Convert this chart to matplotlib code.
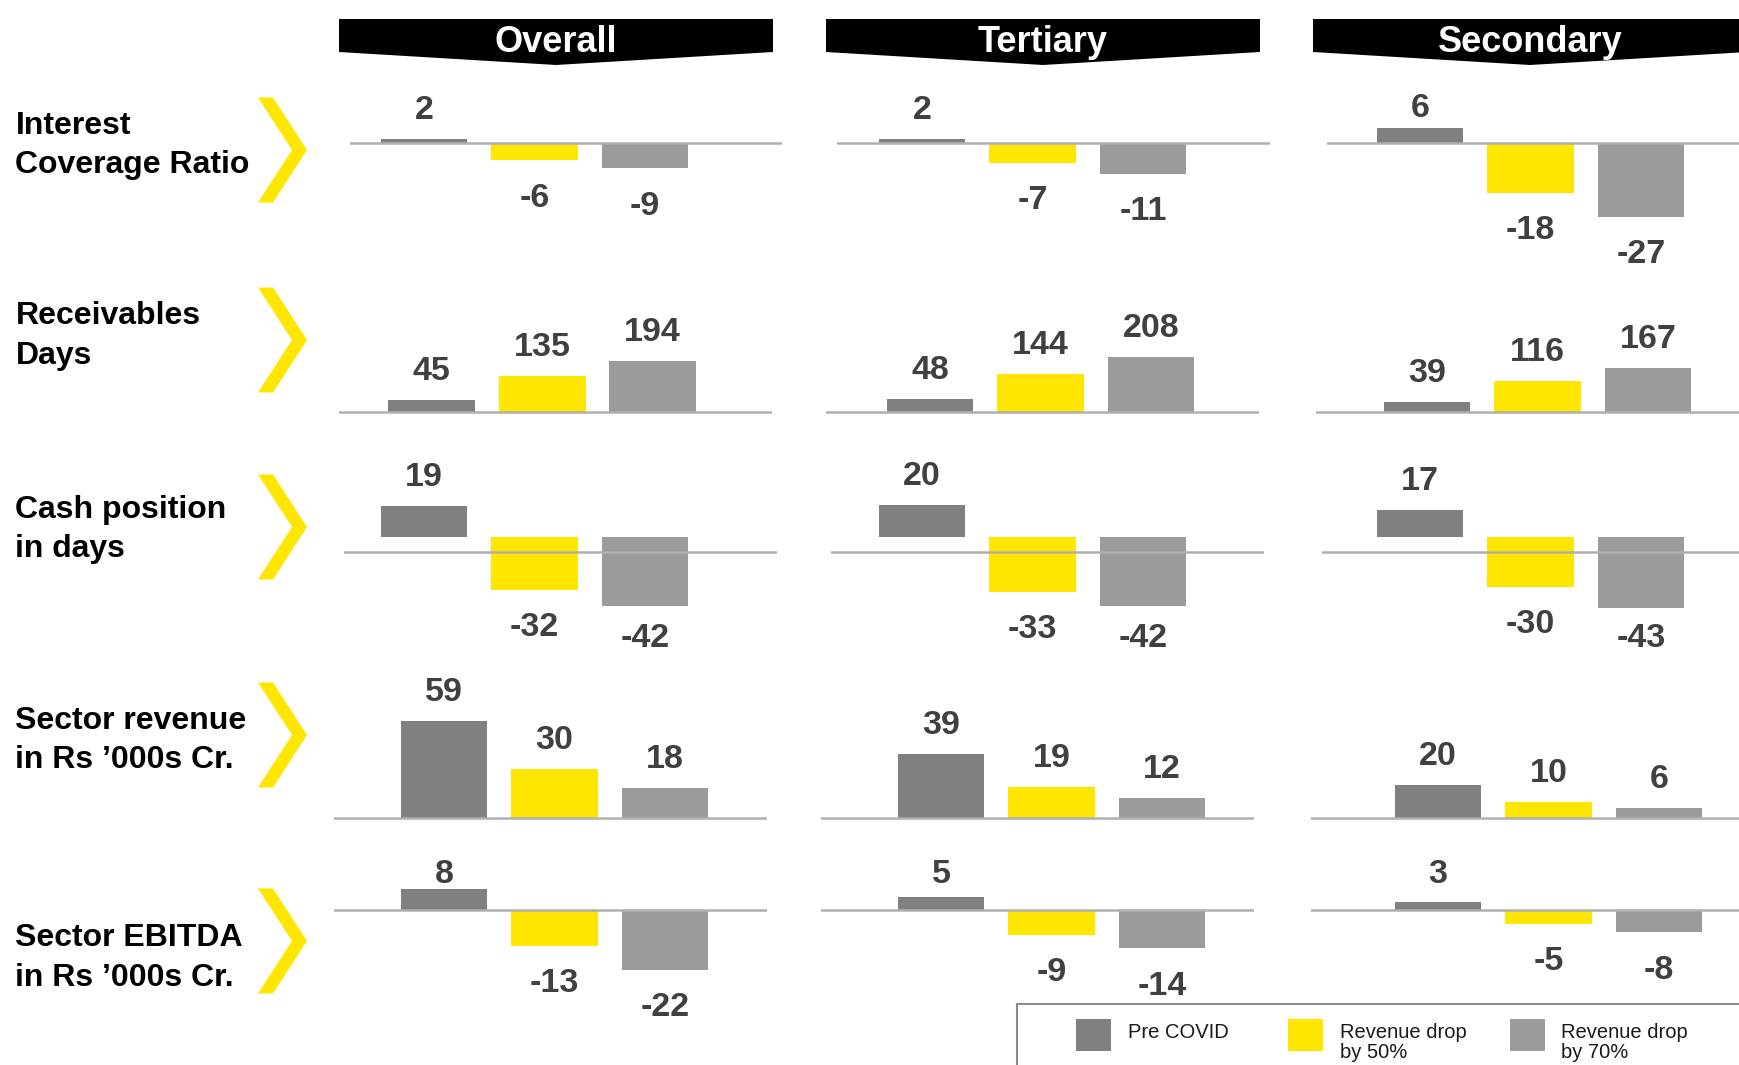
import matplotlib.pyplot as plt
from matplotlib.patches import Polygon, Rectangle

# data
segments = ['Overall', 'Tertiary', 'Secondary']
metrics = ['Interest\nCoverage Ratio', 'Receivables\nDays', 'Cash position\nin days',
           'Sector revenue\nin Rs \u2019000s Cr.', 'Sector EBITDA\nin Rs \u2019000s Cr.']
scenarios = ['Pre COVID', 'Revenue drop\nby 50%', 'Revenue drop\nby 70%']

interest_cov = [[2, -6, -9], [2, -7, -11], [6, -18, -27]]
receivables = [[45, 135, 194], [48, 144, 208], [39, 116, 167]]
cash_days = [[19, -32, -42], [20, -33, -42], [17, -30, -43]]
revenue = [[59, 30, 18], [39, 19, 12], [20, 10, 6]]
ebitda = [[8, -13, -22], [5, -9, -14], [3, -5, -8]]
values = [interest_cov, receivables, cash_days, revenue, ebitda]

colors = ['#808080', '#FFE600', '#9B9B9B']
yellow = '#FFE600'
label_color = '#404040'

W, H = 1740, 1065
fig = plt.figure(figsize=(W / 100, H / 100), dpi=100)


def fx(x):
    return x / W


def fy(y):
    return 1 - y / H


# layout (pixels in the full picture)
zero_px = [144, 412, 537.5, 818, 910.5]
scale_px = [2.7, 0.265, 1.64, 1.64, 2.7]
line_off = [-1, 0, 15, 0, -1]
lab_min = [105, 0, 0, 0, 871]
lab_max = [H, H, 635, H, H]
row_box = [(70, 262), (265, 445), (448, 660), (662, 835), (838, 1060)]
line_x0 = [[349.5, 836.7, 1327], [338.5, 825.6, 1316], [344, 831, 1321.6],
           [334, 821, 1310.6], [334, 821, 1310.6]]
center0 = [[424, 922, 1420], [431.7, 930, 1427], [424, 922, 1420],
           [444, 941, 1438], [444, 941, 1438]]
step = 110.5
line_w = 433
chev_ctr = [150, 340, 527, 735, 941]
label_base = [173, 363.5, 557.5, 768.5, 985.5]  # baseline of the 2nd line

for r in range(5):
    top, bot = row_box[r]
    z, s = zero_px[r], scale_px[r]
    for c in range(3):
        x0 = line_x0[r][c]
        ax = fig.add_axes([fx(x0), fy(bot), line_w / W, (bot - top) / H])
        ax.set_xlim((x0 - center0[r][c]) / step, (x0 + line_w - center0[r][c]) / step)
        ax.set_ylim((z - bot) / s, (z - top) / s)
        ax.axis('off')
        vals = values[r][c]
        ax.bar(range(3), vals, width=0.785, color=colors, zorder=2)
        ax.axhline(-line_off[r] / s, color='#B0B0B0', lw=1.8, zorder=3)
        for i, v in enumerate(vals):
            if v >= 0:
                py = z - v * s - 32
            else:
                py = z - v * s + 34.5
            py = min(max(py, lab_min[r]), lab_max[r])
            ax.text(i, (z - py) / s, str(v), ha='center', va='center_baseline',
                    fontsize=24.5, fontweight='bold', color=label_color,
                    family='Liberation Sans', clip_on=False)

    # row label and chevron
    fig.text(fx(15.5), fy(label_base[r]), metrics[r], ha='left', va='baseline',
             fontsize=23, fontweight='bold', color='black', family='Liberation Sans',
             linespacing=1.4)
    cy = chev_ctr[r]
    pts = [(258, cy - 52.5), (273, cy - 52.5), (307, cy), (273, cy + 52.5),
           (258, cy + 52.5), (292, cy)]
    fig.add_artist(Polygon([(fx(px), fy(py)) for px, py in pts], closed=True,
                           facecolor=yellow, edgecolor='none'))

# headers
for k, name in enumerate(segments):
    x0 = 339 + k * 487
    x1 = x0 + 434
    xm = (x0 + x1) / 2
    pts = [(x0, 19), (x1, 19), (x1, 52), (xm, 65), (x0, 52)]
    fig.add_artist(Polygon([(fx(px), fy(py)) for px, py in pts], closed=True,
                           facecolor='black', edgecolor='none'))
    fig.text(fx(xm), fy(52), name, ha='center', va='baseline', fontsize=26,
             fontweight='bold', color='white', family='Liberation Sans')

# legend
fig.add_artist(Rectangle((fx(1017.5), fy(1080)), (W + 20 - 1017.5) / W, (1080 - 1004) / H,
                         facecolor='white', edgecolor='#8C8C8C', lw=1.5))
leg_sq = [1076, 1288, 1510]
leg_tx = [1128.5, 1340.5, 1561]
leg_base = [1038.5, 1058, 1058]
for k in range(3):
    fig.add_artist(Rectangle((fx(leg_sq[k]), fy(1051)), 35.5 / W, 32 / H,
                             facecolor=colors[k], edgecolor='none'))
    fig.text(fx(leg_tx[k]), fy(leg_base[k]), scenarios[k], ha='left', va='baseline',
             fontsize=14.5, color='#1A1A1A', linespacing=1.1,
             family='Liberation Sans')

fig.savefig('out.png', dpi=100)
